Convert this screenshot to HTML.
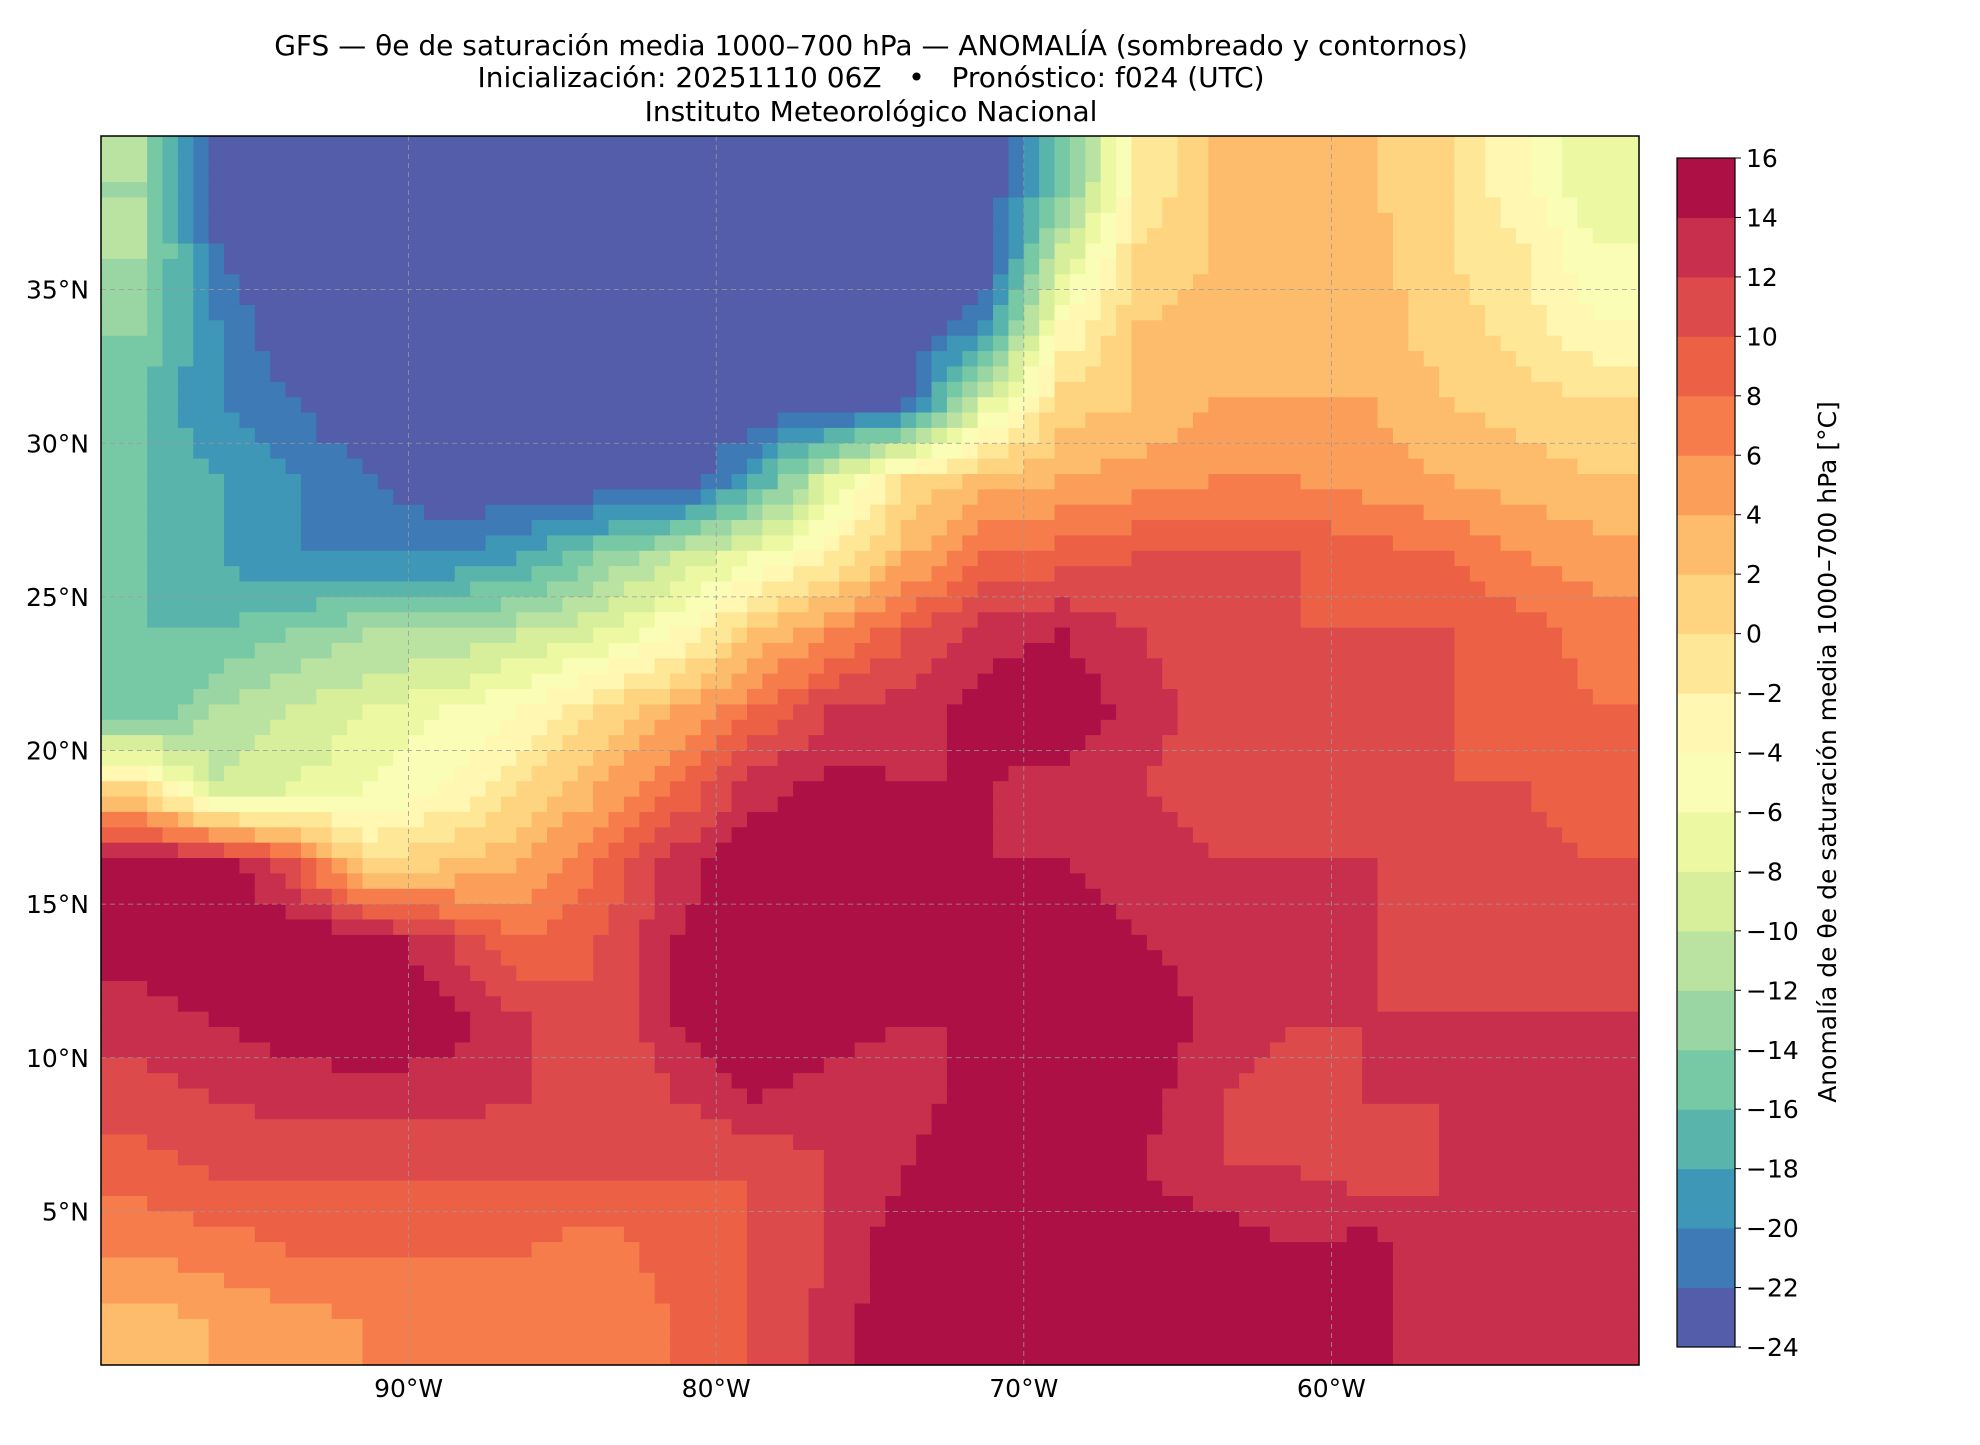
<!DOCTYPE html>
<html><head><meta charset="utf-8">
<style>
body{margin:0;background:#fff;font-family:"Liberation Sans","DejaVu Sans",sans-serif;}
svg text{font-family:"DejaVu Sans","Liberation Sans",sans-serif;}
</style></head>
<body>
<svg id="chart" width="1980" height="1440" viewBox="0 0 1980 1440" xmlns="http://www.w3.org/2000/svg">
<rect width="1980" height="1440" fill="#fff"/>
<g font-size="28" text-anchor="middle" fill="#000">
<text x="871" y="55">GFS — θe de saturación media 1000–700 hPa — ANOMALÍA (sombreado y contornos)</text>
<text x="871" y="87">Inicialización: 20251110 06Z&#160;&#160;&#160;•&#160;&#160;&#160;Pronóstico: f024 (UTC)</text>
<text x="871" y="121">Instituto Meteorológico Nacional</text>
</g>
<g id="field"></g>
<g id="grid"></g>
<rect x="101" y="136" width="1538" height="1229" fill="none" stroke="#000" stroke-width="1.5"/>
<g id="axes" font-size="25" fill="#000"></g>
<g id="cbar"></g>
<text transform="translate(1836,752) rotate(-90)" text-anchor="middle" font-size="25">Anomalía de θe de saturación media 1000–700 hPa [°C]</text>
</svg>
<script>
// grid: lon centers -98.75..-51.25 step 2.5, lat centers 38.75..1.25 step -2.5
const lonCenters=[-98.75,-96.25,-93.75,-91.25,-88.75,-86.25,-83.75,-81.25,-78.75,-76.25,-73.75,-71.25,-68.75,-66.25,-63.75,-61.25,-58.75,-56.25,-53.75,-51.25];
const latCenters=[38.75,36.25,33.75,31.25,28.75,26.25,23.75,21.25,18.75,16.25,13.75,11.25,8.75,6.25,3.75,1.25];
const anomaly=[
[-12,-24,-24,-24,-24,-24,-24,-24,-24,-24,-24,-24,-16,-2,2,2,2,0,-4,-8],
[-12,-22,-24,-24,-24,-24,-24,-24,-24,-24,-24,-24,-10,0,2,3,3,0,-2,-6],
[-14,-20,-24,-24,-24,-24,-24,-24,-24,-24,-24,-20,-4,2,3,3,3,1,-1,-4],
[-16,-20,-22,-24,-24,-24,-24,-24,-24,-24,-22,-8,1,2,4,4,4,2,1,0],
[-16,-18,-20,-22,-24,-24,-24,-24,-18,-8,0,3,4,5,6,6,5,4,3,2],
[-16,-18,-20,-20,-20,-18,-14,-10,-6,-2,4,8,9,10,10,10,9,8,6,5],
[-16,-16,-14,-12,-12,-10,-8,-4,2,6,10,13,14,12,11,10,10,10,9,7],
[-16,-12,-10,-8,-6,-4,0,4,8,12,13,15,16,13,11,11,10,10,9,8],
[0,-10,-8,-6,-4,0,4,8,13,15,14,14,13,12,11,10,10,10,10,8],
[16,16,10,0,2,4,8,13,16,16,16,14,14,13,12,12,12,11,11,10],
[15,16,16,16,12,8,10,14,16,16,16,16,15,14,13,12,12,11,11,11],
[13,14,15,16,15,12,10,14,16,15,14,14,15,16,13,12,12,12,12,12],
[11,12,13,13,13,12,10,12,14,13,13,15,16,15,12,11,12,12,12,12],
[9,10,10,10,10,10,10,10,10,12,14,16,16,14,12,12,11,12,12,13],
[6,7,8,8,8,8,7,9,10,12,16,16,16,16,16,14,15,12,12,12],
[3,4,5,6,6,6,6,8,10,13,16,16,16,16,16,16,15,12,12,13]
];
const cbarTicks=[-24,-22,-20,-18,-16,-14,-12,-10,-8,-6,-4,-2,0,2,4,6,8,10,12,14,16];
const lonTicks=[-90,-80,-70,-60];
const latTicks=[5,10,15,20,25,30,35];

const NS="http://www.w3.org/2000/svg";
const X0=101,X1=1639,Y0=136,Y1=1365,LON0=-100,LON1=-50,LAT0=0,LAT1=40;
const xS=lon=>X0+(lon-LON0)/(LON1-LON0)*(X1-X0);
const yS=lat=>Y1-(lat-LAT0)/(LAT1-LAT0)*(Y1-Y0);
const anchors=["#9e0142","#d53e4f","#f46d43","#fdae61","#fee08b","#ffffbf","#e6f598","#abdda4","#66c2a5","#3288bd","#5e4fa2"].reverse();
function hex(c){return [1,3,5].map(i=>parseInt(c.substr(i,2),16));}
function cmap(t){const p=t*(anchors.length-1),i=Math.min(Math.floor(p),anchors.length-2),f=p-i;
 const a=hex(anchors[i]),b=hex(anchors[i+1]);return "rgb("+a.map((v,k)=>Math.round(v+(b[k]-v)*f)).join(",")+")";}
const nLev=cbarTicks.length-1;
function levelColor(v){let k=Math.floor((v-cbarTicks[0])/2);k=Math.max(0,Math.min(nLev-1,k));return cmap((k+0.5)/nLev);}
function sample(lon,lat){
 let fi=(lon-lonCenters[0])/2.5, fj=(latCenters[0]-lat)/2.5;
 fi=Math.max(0,Math.min(lonCenters.length-1,fi)); fj=Math.max(0,Math.min(latCenters.length-1,fj));
 const i=Math.min(Math.floor(fi),lonCenters.length-2), j=Math.min(Math.floor(fj),latCenters.length-2);
 const u=fi-i,v=fj-j;
 return anomaly[j][i]*(1-u)*(1-v)+anomaly[j][i+1]*u*(1-v)+anomaly[j+1][i]*(1-u)*v+anomaly[j+1][i+1]*u*v;
}
const field=document.getElementById('field');
const step=0.5;
for(let lat=LAT1;lat>LAT0;lat-=step){
 let runStart=LON0,runCol=null;
 for(let lon=LON0;lon<=LON1;lon+=step){
  const col=lon<LON1?levelColor(sample(lon+step/2,lat-step/2)):null;
  if(col!==runCol){
   if(runCol){const r=document.createElementNS(NS,'rect');
    r.setAttribute('x',xS(runStart));r.setAttribute('y',yS(lat));
    r.setAttribute('width',xS(lon)-xS(runStart)+0.6);r.setAttribute('height',yS(lat-step)-yS(lat)+0.6);
    r.setAttribute('fill',runCol);
    
    
    field.appendChild(r);}
   runStart=lon;runCol=col;}
 }
}
const grid=document.getElementById('grid'),axes=document.getElementById('axes');
lonTicks.forEach(l=>{const x=xS(l);
 const g=document.createElementNS(NS,'line');g.setAttribute('x1',x);g.setAttribute('x2',x);g.setAttribute('y1',Y0);g.setAttribute('y2',Y1);
 g.setAttribute('stroke','#999');g.setAttribute('stroke-dasharray','5,4');g.setAttribute('stroke-width','0.8');
 
 
 grid.appendChild(g);
 const t=document.createElementNS(NS,'text');t.setAttribute('x',x);t.setAttribute('y',1397);t.setAttribute('text-anchor','middle');
 t.textContent=Math.abs(l)+"°W";
 
 
 axes.appendChild(t);});
latTicks.forEach(l=>{const y=yS(l);
 const g=document.createElementNS(NS,'line');g.setAttribute('x1',X0);g.setAttribute('x2',X1);g.setAttribute('y1',y);g.setAttribute('y2',y);
 g.setAttribute('stroke','#999');g.setAttribute('stroke-dasharray','5,4');g.setAttribute('stroke-width','0.8');
 
 
 grid.appendChild(g);
 const t=document.createElementNS(NS,'text');t.setAttribute('x',89);t.setAttribute('y',y+9);t.setAttribute('text-anchor','end');
 t.textContent=l+"°N";
 
 
 axes.appendChild(t);});
const cb=document.getElementById('cbar');const CX=1677,CW=58,CY0=158,CY1=1347;
const cy=v=>CY1-(v-cbarTicks[0])/(cbarTicks[cbarTicks.length-1]-cbarTicks[0])*(CY1-CY0);
for(let k=0;k<nLev;k++){const r=document.createElementNS(NS,'rect');
 r.setAttribute('x',CX);r.setAttribute('y',cy(cbarTicks[k+1]));r.setAttribute('width',CW);r.setAttribute('height',cy(cbarTicks[k])-cy(cbarTicks[k+1])+0.5);
 r.setAttribute('fill',cmap((k+0.5)/nLev));
 
 
 cb.appendChild(r);}
const fr=document.createElementNS(NS,'rect');fr.setAttribute('x',CX);fr.setAttribute('y',CY0);fr.setAttribute('width',CW);fr.setAttribute('height',CY1-CY0);
fr.setAttribute('fill','none');fr.setAttribute('stroke','#000');fr.setAttribute('stroke-width','1.2');


cb.appendChild(fr);
cbarTicks.forEach(v=>{const y=cy(v);
 const l=document.createElementNS(NS,'line');l.setAttribute('x1',CX+CW);l.setAttribute('x2',CX+CW+6);l.setAttribute('y1',y);l.setAttribute('y2',y);l.setAttribute('stroke','#000');
 
 
 cb.appendChild(l);
 const t=document.createElementNS(NS,'text');t.setAttribute('x',CX+CW+11);t.setAttribute('y',y+9);t.setAttribute('font-size','25');
 t.textContent=v<0?"−"+Math.abs(v):String(v);
 
 
 cb.appendChild(t);});
</script>
</body></html>
